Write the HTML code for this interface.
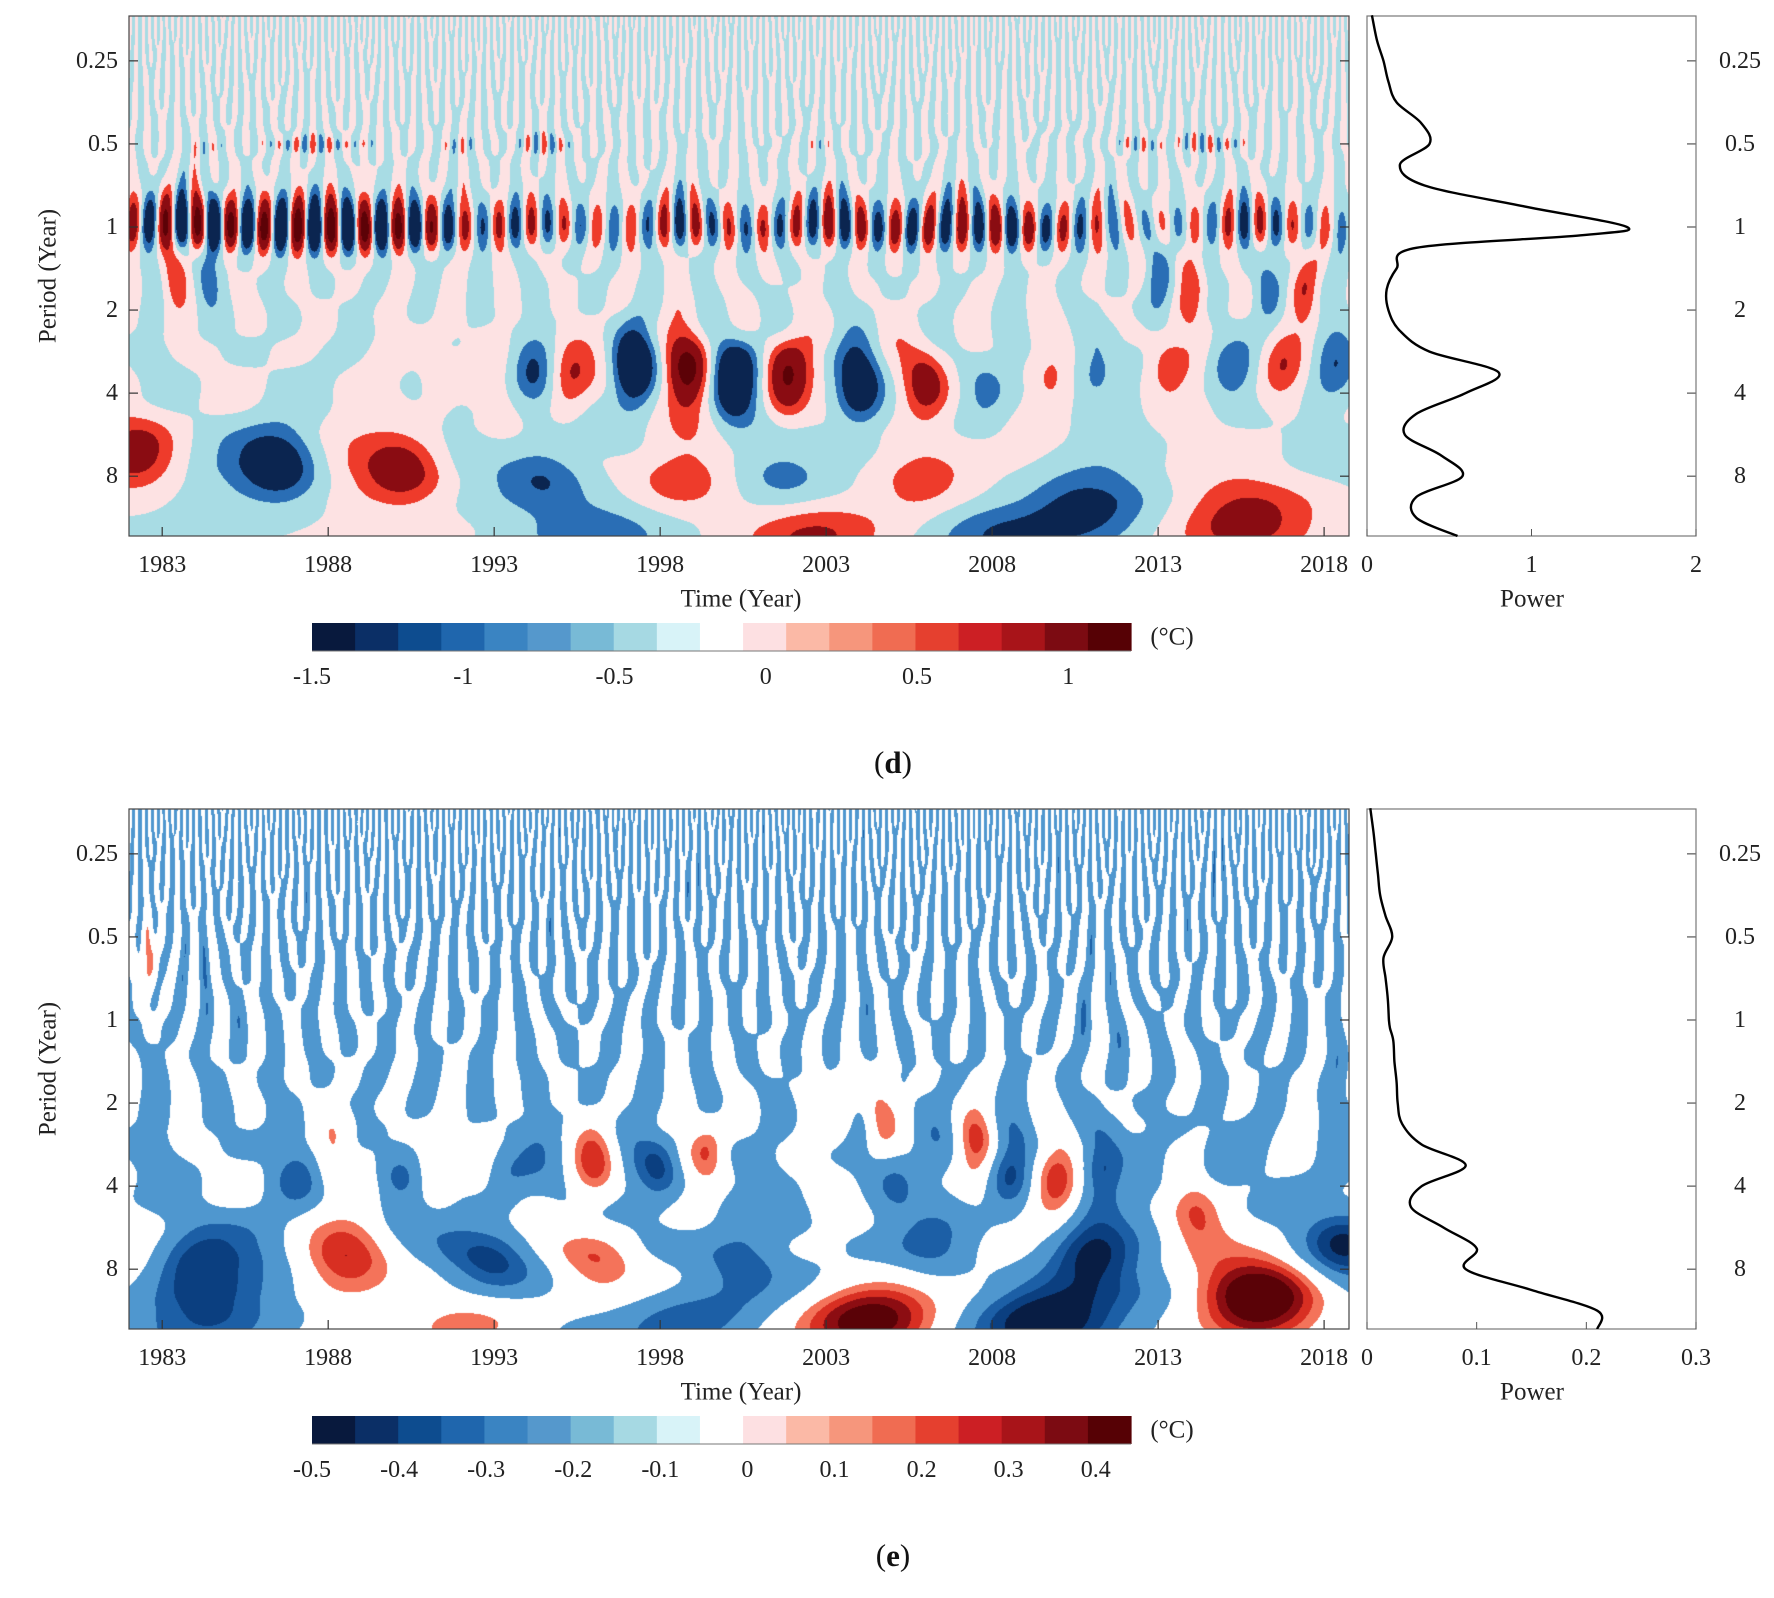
<!DOCTYPE html>
<html><head><meta charset="utf-8">
<style>
html,body{margin:0;padding:0;background:#fff;}
#root{position:relative;width:1774px;height:1598px;overflow:hidden;background:#fff;font-family:"Liberation Serif",serif;}
canvas{position:absolute;}
svg{position:absolute;left:0;top:0;}
</style></head>
<body>
<div id="root">
<canvas id="cd" width="1220" height="520" style="left:129px;top:16px"></canvas>
<canvas id="ce" width="1220" height="520" style="left:129px;top:809px"></canvas>
<svg id="ov" width="1774" height="1598"></svg>
</div>
<script>
// ---------- data ----------
const years = [1982,1983,1984,1985,1986,1987,1988,1989,1990,1991,1992,1993,1994,1995,1996,1997,1998,1999,2000,2001,2002,2003,2004,2005,2006,2007,2008,2009,2010,2011,2012,2013,2014,2015,2016,2017,2018];
const annualAmpD = [1.0,1.3,1.4,1.4,1.4,1.4,1.4,1.4,1.3,1.0,0.6,0.8,0.7,0.6,0.5,0.5,0.8,0.7,0.7,0.8,0.9,1.1,1.0,1.1,0.9,0.8,1.0,0.7,0.5,0.35,0.35,0.5,0.6,0.9,0.8,0.6,0.5];
const semiAmpD = [0.05,0.1,0.2,0.3,0.45,0.55,0.4,0.3,0.1,0.2,0.2,0.3,0.4,0.3,0.2,0.1,0.1,0.2,0.1,0.2,0.3,0.3,0.3,0.2,0.2,0.2,0.1,0.2,0.3,0.4,0.45,0.2,0.4,0.3,0.1,0.1,0.05];
// blobs panel d: year, period(years), value
const blobYearD = [1991.3,1994.2,1995.2,1997.2,1998.8,2000.2,2001.8,2004.0,2006.0,2007.8,2009.7,2011.1,2013.3,2015.2,2016.7,2018.3,1982.3,1986.6,1990.3,1994.5,1998.7,2001.7,2005.8,2010.8,2015.5,1996.0,2002.5,2008.0,1983.4,1984.4,2013.0,2014.0,2016.3,2017.4];
const blobPeriodD = [3.4,3.5,3.5,3.2,3.3,3.6,3.6,3.8,3.7,3.8,3.4,3.3,3.3,3.3,3.3,3.3,6.5,7.2,7.2,7.5,7.5,7.5,7.8,10.5,11.5,12.5,12.5,12.5,1.5,1.5,1.6,1.8,1.6,1.6];
const blobValueD = [0.38,-0.5,0.6,-1.1,1.15,-1.3,1.1,-1.05,0.9,-0.5,0.45,-0.5,0.5,-0.5,0.5,-0.45,0.55,-0.85,0.8,-0.5,0.48,-0.45,0.45,-0.55,0.6,-0.45,0.55,-0.5,0.45,-0.4,-0.45,0.45,-0.42,0.42];
// blobs panel e
const blobYearE = [1988.2,1991.3,1996.0,1999.4,1988.5,1996.1,2007.5,2009.9,2004.3,2016.0,2014.2,1992.5,2003.5,2004.6,1983.8,1984.6,1990.0,1993.3,1993.0,1987.0,1998.0,2000.5,1999.0,2005.0,2006.3,2008.5,2011.3,2011.0,2009.5,2018.6,2014.8,1982.6];
const blobPeriodE = [2.9,3.5,3.3,2.8,7.4,7.4,2.9,3.8,12,10,5,12.5,2.2,2.2,7.5,11.5,3.6,3.6,7.4,3.4,3.5,7.2,12,3.8,7,3.6,3.4,7,12,6.5,3.4,0.6];
const blobValueE = [0.26,0.3,0.25,0.25,0.25,0.25,0.26,0.4,0.55,0.6,0.28,0.24,0.2,0.2,-0.22,-0.22,-0.2,-0.18,-0.22,-0.15,-0.2,-0.2,-0.2,-0.16,-0.18,-0.28,-0.3,-0.3,-0.4,-0.3,-0.15,0.22];
// global power spectra (log2 period vs power)
const powerLogPeriod = [-2.55,-2.25,-2.0,-1.75,-1.5,-1.25,-1.0,-0.75,-0.5,-0.25,0,0.1,0.25,0.5,0.75,1.0,1.25,1.5,1.75,2.0,2.25,2.5,2.75,3.0,3.25,3.5,3.72];
const powerD = [0.03,0.06,0.1,0.13,0.18,0.33,0.38,0.2,0.35,0.95,1.58,1.3,0.3,0.18,0.12,0.13,0.2,0.38,0.8,0.6,0.3,0.23,0.45,0.58,0.3,0.3,0.55];
const powerE = [0.003,0.006,0.008,0.01,0.012,0.017,0.023,0.015,0.017,0.019,0.02,0.021,0.024,0.025,0.027,0.028,0.032,0.05,0.09,0.05,0.04,0.07,0.1,0.09,0.15,0.21,0.21];
const yTickPeriods = [0.25,0.5,1,2,4,8];
const yTickLabels = ["0.25","0.5","1","2","4","8"];
const xTickYears = [1983,1988,1993,1998,2003,2008,2013,2018];
const cbTicksD = [-1.5,-1,-0.5,0,0.5,1];
const cbTicksE = [-0.5,-0.4,-0.3,-0.2,-0.1,0,0.1,0.2,0.3,0.4];
const powerTicksD = [0,1,2];
const powerTicksE = [0,0.1,0.2,0.3];
// ---------- scales ----------
const T0=1982, T1=2018.75, L0=-2.54, L1=3.72, PX=129, PW=1220, PH=520;
const BX=1367, BW=329;
function xOf(t){return PX+(t-T0)/(T1-T0)*PW;}
function yOf(L,top){return top+(L-L0)/(L1-L0)*PH;}
const jit=[0.02,-0.03,0.01,0.04,-0.02,0.03,-0.04,0.0,0.02,-0.01,0.03,-0.03,0.04,-0.02,0.01,0.02,-0.04,0.03,0.0,-0.02,0.04,-0.01,0.02,-0.03,0.01,0.03,-0.02,0.0,0.04,-0.04,0.02,-0.01,0.03,-0.03,0.01,0.0,0.02,-0.02,0.04,-0.03,0.01,0.03,-0.01,0.02,-0.04];
const phs=[0.3,2.1,4.4,1.2,5.6,3.3,0.9,2.8,4.9,1.7,6.0,3.9,0.5,2.4,5.1,1.0,3.6,5.8,2.2,4.2,0.1,1.9,3.1,5.3,2.6,4.7,0.7,1.4,3.8,5.5,2.0,4.0,0.4,1.6,3.4,5.0,2.9,4.6,0.8,1.3,3.0,5.9,2.5,4.3,0.2];
function render(id,opt){
  const cv=document.getElementById(id),ctx=cv.getContext('2d');
  const img=ctx.createImageData(PW,PH);
  const ts=new Float64Array(PW), Ls=new Float64Array(PH);
  for(let x=0;x<PW;x++)ts[x]=T0+(x+0.5)/PW*(T1-T0);
  for(let y=0;y<PH;y++)Ls[y]=L0+(y+0.5)/PH*(L1-L0);
  const N=45, fr=[];
  for(let i=0;i<N;i++)fr.push(Math.pow(2,2.7-i*0.145)*(1+jit[i]));
  const cosT=fr.map((f,i)=>{const a=new Float64Array(PW);for(let x=0;x<PW;x++)a[x]=Math.cos(2*Math.PI*f*ts[x]+phs[i]);return a;});
  const rT=fr.map(f=>{const a=new Float64Array(PH);for(let y=0;y<PH;y++){const d=Ls[y]+Math.log2(f);a[y]=Math.exp(-d*d/(2*0.2*0.2));}return a;});
  const norm=new Float64Array(PH);
  for(let y=0;y<PH;y++){let s=0;for(let j=0;j<N;j++)s+=rT[j][y]*rT[j][y];norm[y]=Math.sqrt(s)||1;}
  const K=opt.by.length, gx=[], gy=[];
  for(let k=0;k<K;k++){
    const Lk=Math.log2(opt.bp[k]), st=0.11*opt.bp[k]+0.1;
    const ax=new Float64Array(PW),ay=new Float64Array(PH);
    for(let x=0;x<PW;x++){const d=(ts[x]-opt.by[k])/st;ax[x]=opt.bv[k]*Math.exp(-d*d/2);}
    for(let y=0;y<PH;y++){const d=(Ls[y]-Lk)/0.33;ay[y]=Math.exp(-d*d/2);}
    gx.push(ax);gy.push(ay);
  }
  const ann=new Float64Array(PW), semi=new Float64Array(PW);
  for(let x=0;x<PW;x++){
    const t=ts[x], u=Math.min(Math.max(t-0.5-years[0],0),years.length-1.001), i=Math.floor(u), f=u-i;
    const a=opt.ann?opt.ann[i]*(1-f)+opt.ann[i+1]*f:0;
    const s=opt.semi?opt.semi[i]*(1-f)+opt.semi[i+1]*f:0;
    ann[x]=a*Math.cos(2*Math.PI*(t-0.1));
    semi[x]=s*Math.cos(4*Math.PI*(t-0.05));
  }
  const annR=new Float64Array(PH), semiR=new Float64Array(PH);
  for(let y=0;y<PH;y++){const L=Ls[y];const s=L<0?0.28:0.2;annR[y]=Math.exp(-L*L/(2*s*s));const d=(L+1)/0.1;semiR[y]=Math.exp(-d*d/2);}
  const cols=opt.colors.map(h=>[parseInt(h.substr(1,2),16),parseInt(h.substr(3,2),16),parseInt(h.substr(5,2),16)]);
  let p=0;
  for(let y=0;y<PH;y++){
    const idx=[];for(let j=0;j<N;j++)if(rT[j][y]>0.01)idx.push(j);
    for(let x=0;x<PW;x++){
      let b=0;for(const j of idx)b+=rT[j][y]*cosT[j][x];
      let v=opt.off+opt.amp*b/norm[y]+ann[x]*annR[y]+semi[x]*semiR[y];
      for(let k=0;k<K;k++)v+=gx[k][x]*gy[k][y];
      let c=0;while(c<opt.levels.length&&v>=opt.levels[c])c++;
      const col=cols[c];
      img.data[p++]=col[0];img.data[p++]=col[1];img.data[p++]=col[2];img.data[p++]=255;
    }
  }
  ctx.putImageData(img,0,0);
}
render('cd',{by:blobYearD,bp:blobPeriodD,bv:blobValueD,ann:annualAmpD,semi:semiAmpD,off:0.0,amp:0.15,
  levels:[-1.05,-0.6,-0.33,0,0.33,0.6,1.05],
  colors:['#0b2550','#0b2550','#2a6eb5','#a8dce4','#fde2e3','#ee3b2b','#8a0c12','#5c0207']});
render('ce',{by:blobYearE,bp:blobPeriodE,bv:blobValueE,ann:null,semi:null,off:-0.1,amp:0.085,
  levels:[-0.45,-0.35,-0.25,-0.1,0.1,0.2,0.3,0.4],
  colors:['#081d44','#0b3f80','#1c5fa6','#4f97cf','#ffffff','#f4735a','#d82f22','#8c0d12','#5a0207']});
// ---------- overlay ----------
const NS='http://www.w3.org/2000/svg', ov=document.getElementById('ov');
function el(tag,attrs,parent){const e=document.createElementNS(NS,tag);for(const k in attrs)e.setAttribute(k,attrs[k]);(parent||ov).appendChild(e);return e;}
function txt(s,x,y,size,anchor,parent){const t=el('text',{x:x,y:y,'font-size':size,'text-anchor':anchor||'middle','dominant-baseline':'central','font-family':'Liberation Serif, serif',fill:'#222'},parent);t.textContent=s;return t;}
const palette=['#08193d','#0b2f66','#0d4c8f','#1f66ad','#3a84c2','#5598cc','#78bad6','#a6d9e3','#d8f3f8','#ffffff','#fde0e2','#fbb9a6','#f6967c','#f06c52','#e5402f','#cc1f24','#a81419','#7c0b12','#560105'];
function smoothPath(pts){
  let d='M'+pts[0][0].toFixed(1)+','+pts[0][1].toFixed(1);
  for(let i=0;i<pts.length-1;i++){
    const p0=pts[Math.max(i-1,0)],p1=pts[i],p2=pts[i+1],p3=pts[Math.min(i+2,pts.length-1)];
    const c1=[p1[0]+(p2[0]-p0[0])/6,p1[1]+(p2[1]-p0[1])/6],c2=[p2[0]-(p3[0]-p1[0])/6,p2[1]-(p3[1]-p1[1])/6];
    d+='C'+c1[0].toFixed(1)+','+c1[1].toFixed(1)+' '+c2[0].toFixed(1)+','+c2[1].toFixed(1)+' '+p2[0].toFixed(1)+','+p2[1].toFixed(1);
  }
  return d;
}
function panel(top,name,pw,pmax,pticks,cbTicks,cbMin,cbStep,letter){
  const g=el('g',{});
  
  
  el('rect',{x:PX,y:top,width:PW,height:PH,fill:'none',stroke:'#444','stroke-width':1.2},g);
  yTickPeriods.forEach((pp,i)=>{
    const y=yOf(Math.log2(pp),top);
    el('line',{x1:PX,x2:PX+9,y1:y,y2:y,stroke:'#333','stroke-width':1.2},g);
    el('line',{x1:PX+PW,x2:PX+PW-9,y1:y,y2:y,stroke:'#333','stroke-width':1.2},g);
    const t=txt(yTickLabels[i],118,y,24,'end',g);
    
    
    el('line',{x1:BX+BW,x2:BX+BW-9,y1:y,y2:y,stroke:'#555','stroke-width':1.2},g);
    const r=txt(yTickLabels[i],1740,y,24,'middle',g);
    
    
  });
  xTickYears.forEach(yr=>{
    const x=xOf(yr);
    el('line',{x1:x,x2:x,y1:top+PH,y2:top+PH-9,stroke:'#333','stroke-width':1.2},g);
    const t=txt(String(yr),x,top+PH+29,24,'middle',g);
    
    
  });
  const xt=txt('Time (Year)',741,top+PH+63,25,'middle',g);
  
  
  const yt=txt('Period (Year)',0,0,25,'middle',g);
  yt.setAttribute('transform','translate(48,'+(top+260)+') rotate(-90)');
  
  
  el('rect',{x:BX,y:top,width:BW,height:PH,fill:'none',stroke:'#777','stroke-width':1.2},g);
  pticks.forEach(v=>{
    const x=BX+v/pmax*BW;
    el('line',{x1:x,x2:x,y1:top+PH,y2:top+PH-7,stroke:'#555','stroke-width':1},g);
    const t=txt(String(v),x,top+PH+29,24,'middle',g);
    
    
  });
  const pt=txt('Power',1532,top+PH+63,25,'middle',g);
  
  
  const pts=powerLogPeriod.map((L,i)=>[BX+pw[i]/pmax*BW,yOf(L,top)]);
  const path=el('path',{d:smoothPath(pts),fill:'none',stroke:'#000','stroke-width':2.4,'stroke-linejoin':'round'},g);
  
  
  const cy=top+607, cx0=312, cx1=1131, sw=(cx1-cx0)/19;
  const cb=el('g',{},g);
  
  
  palette.forEach((c,i)=>{el('rect',{x:cx0+i*sw,y:cy,width:sw+0.6,height:28,fill:c},cb);});
  el('line',{x1:cx0,x2:cx1,y1:cy+28,y2:cy+28,stroke:'#777','stroke-width':1},cb);
  cbTicks.forEach(v=>{
    const x=cx0+(v-cbMin)/cbStep*sw;
    const t=txt(String(v),x,cy+54,24,'middle',cb);
    
    
  });
  const u=txt('(°C)',1172,cy+14,25,'middle',cb);
  
  
  const lab=el('text',{x:893,y:top+746,'font-size':31,'text-anchor':'middle','dominant-baseline':'central','font-family':'Liberation Serif, serif',fill:'#111'},g);
  lab.innerHTML='(<tspan font-weight="bold">'+letter+'</tspan>)';
  
  
}
panel(16,'panel-d',powerD,2,powerTicksD,cbTicksD,-1.5,0.1425,'d');
panel(809,'panel-e',powerE,0.3,powerTicksE,cbTicksE,-0.5,0.0495,'e');
</script>
</body></html>
